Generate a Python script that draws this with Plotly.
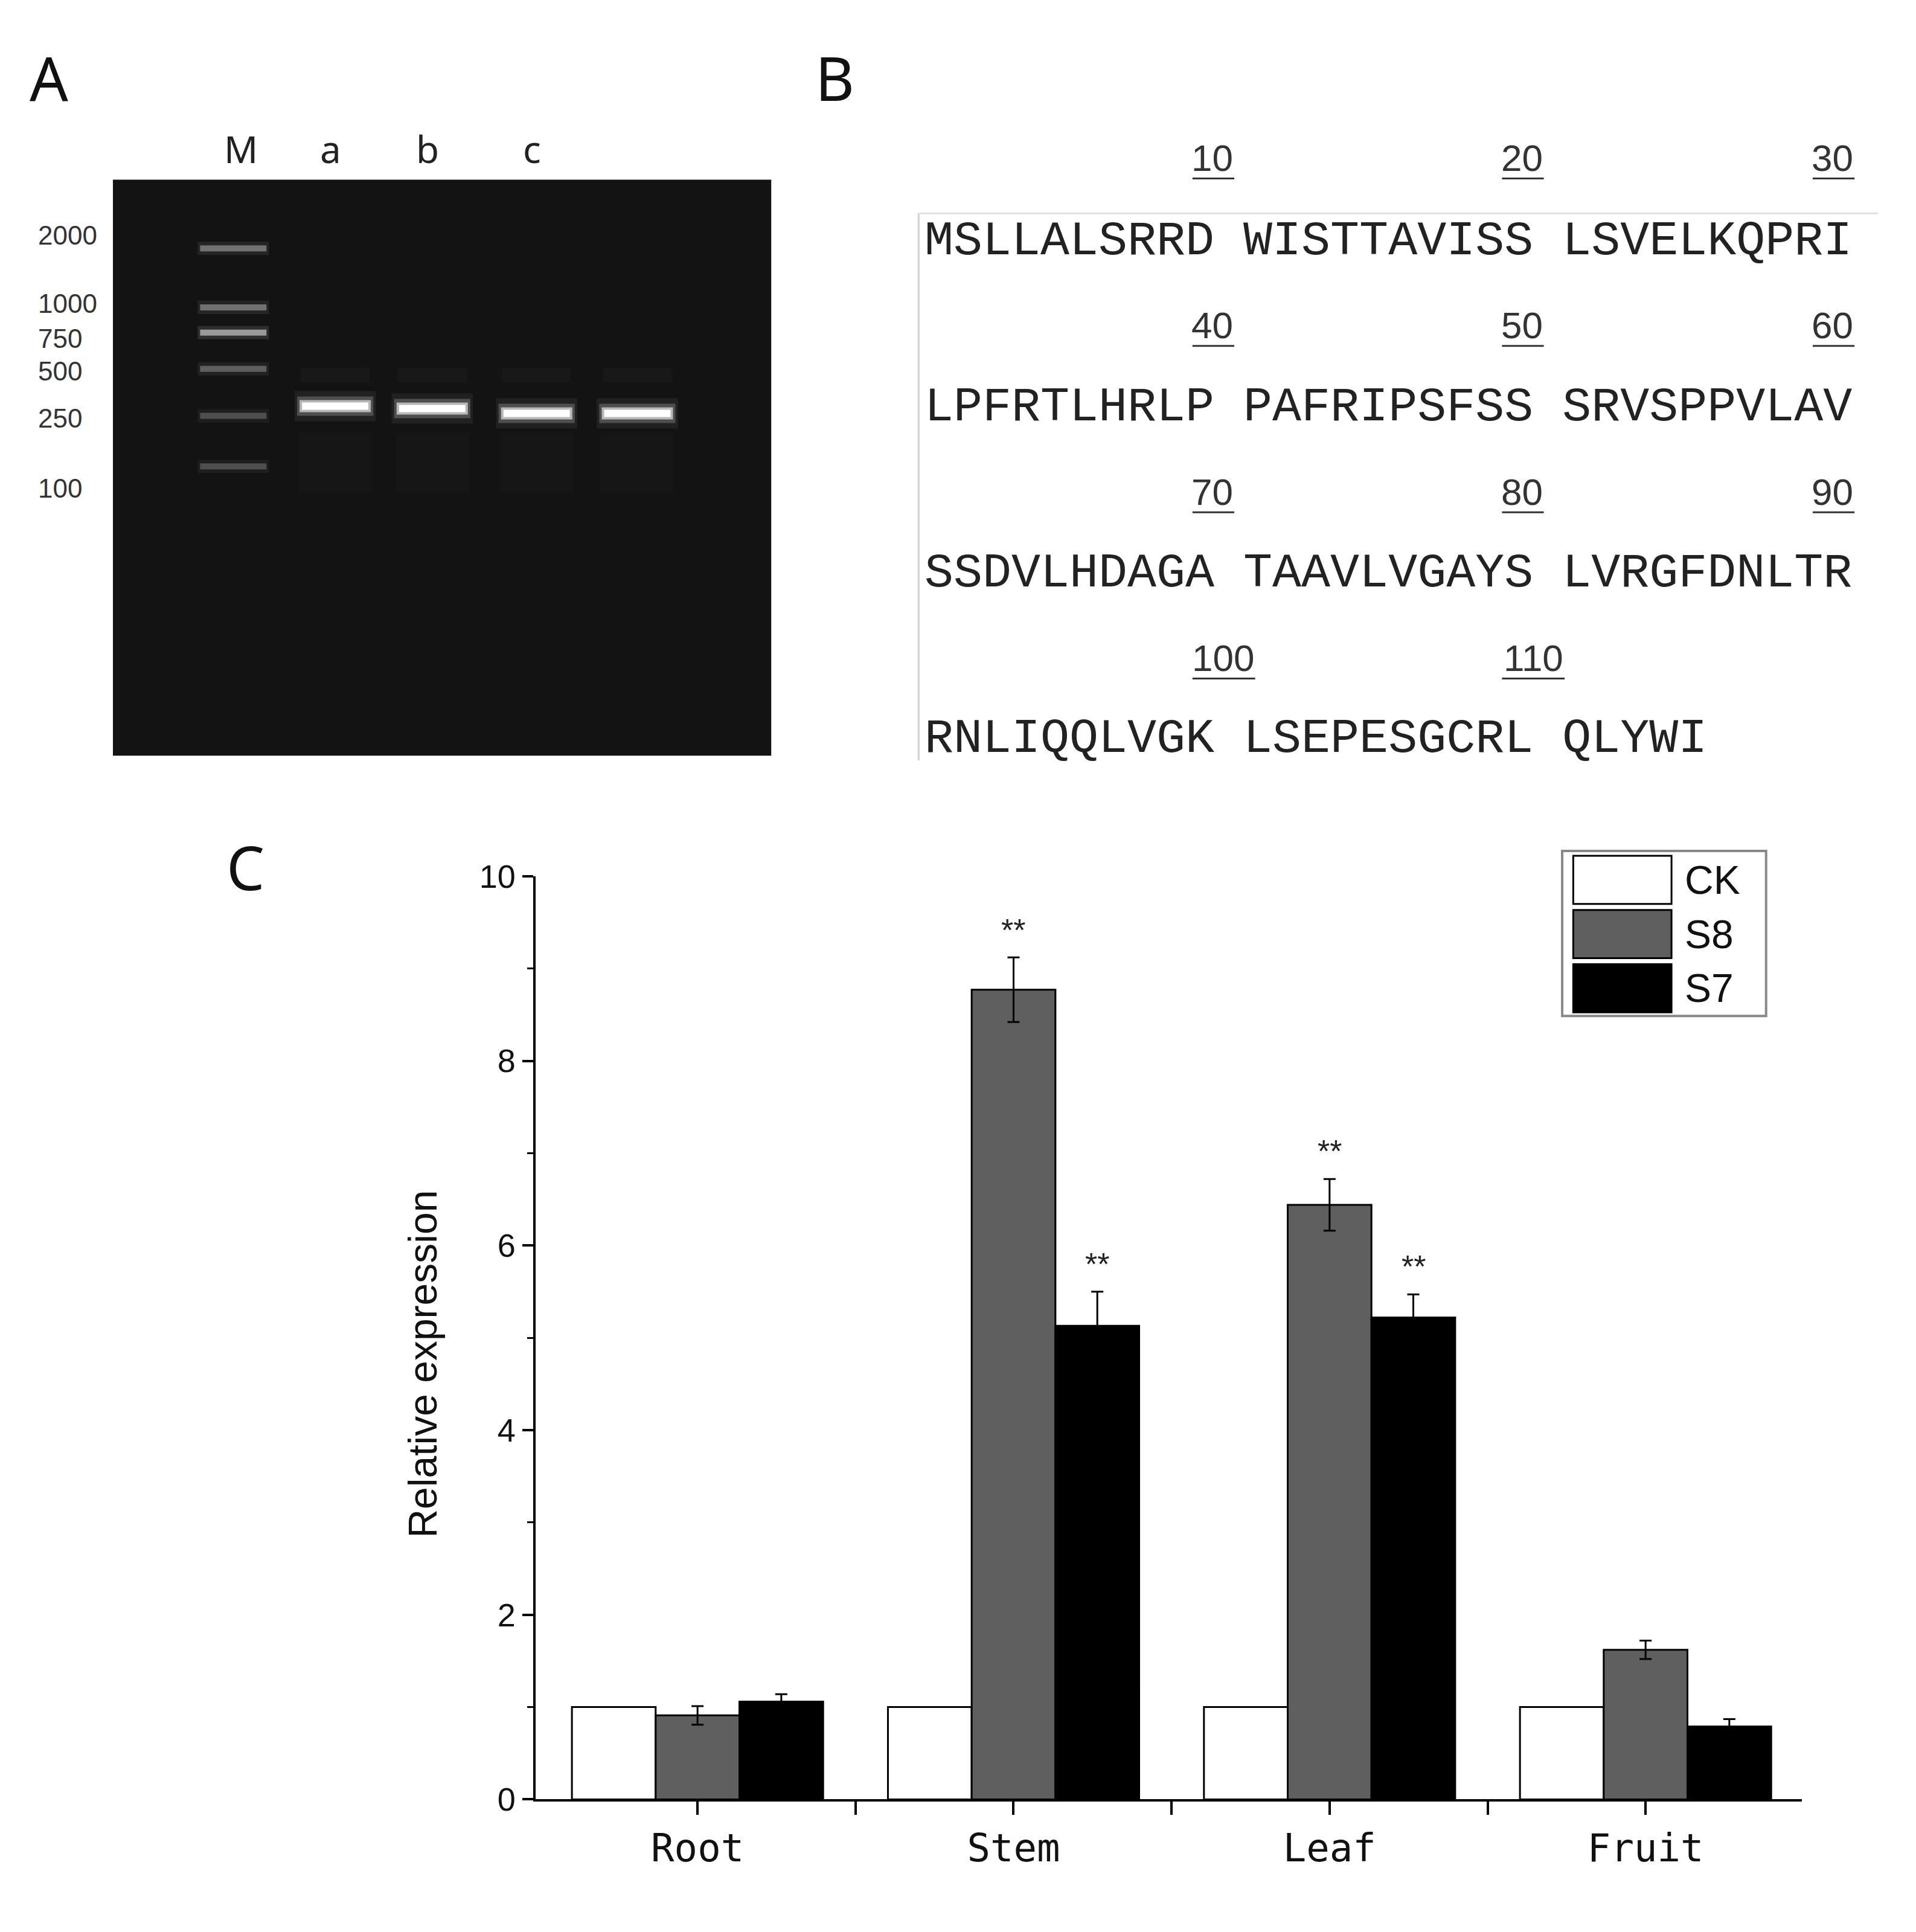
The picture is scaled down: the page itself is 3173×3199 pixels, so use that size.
import plotly.graph_objects as go

W, H = 3173, 3199
DW, DH = 1560.0, 1573.0  # reference display-unit frame
def px(x): return x / DW
def py(y): return 1 - y / DH

# ---------------- data ----------------
tissues = ["Root", "Stem", "Leaf", "Fruit"]
ck = [1.0, 1.0, 1.0, 1.0]
s8 = [0.91, 8.77, 6.44, 1.62]
s8_err = [0.10, 0.35, 0.28, 0.10]
s7 = [1.06, 5.13, 5.22, 0.79]
s7_err = [0.08, 0.37, 0.25, 0.08]
s8_sig = ["", "**", "**", ""]
s7_sig = ["", "**", "**", ""]

ladder_labels = ["2000", "1000", "750", "500", "250", "100"]
ladder_label_y = [176, 233, 262, 289, 328, 386]
ladder_band_y = [187, 236, 257, 287, 326, 368]
ladder_band_int = [0.5, 0.5, 0.75, 0.4, 0.3, 0.3]
lane_names = ["M", "a", "b", "c"]
lane_x = [186, 269, 348, 433, 515]
sample_band_y = [318, 320, 324, 324]

seq_rows = ["MSLLALSRRD WISTTAVISS LSVELKQPRI",
            "LPFRTLHRLP PAFRIPSFSS SRVSPPVLAV",
            "SSDVLHDAGA TAAVLVGAYS LVRGFDNLTR",
            "RNLIQQLVGK LSEPESGCRL QLYWI"]
seq_nums = [["10", "20", "30"], ["40", "50", "60"], ["70", "80", "90"], ["100", "110"]]

fig = go.Figure()

# ---------------- panel C bars ----------------
xs = list(range(len(tissues)))
fig.add_bar(x=xs, y=ck, name="CK", marker=dict(color="white", line=dict(color="black", width=3)))
fig.add_bar(x=xs, y=s8, name="S8", marker=dict(color="#5f5f5f", line=dict(color="black", width=3)),
            error_y=dict(type="data", array=s8_err, color="black", thickness=3, width=10))
fig.add_bar(x=xs, y=s7, name="S7", marker=dict(color="black", line=dict(color="black", width=3)),
            error_y=dict(type="data", array=s7_err, color="black", thickness=3, width=10))

def A(**kw):
    d = dict(showarrow=False, xanchor="center", yanchor="middle", xref="paper", yref="paper")
    d.update(kw)
    return d

ann = []
bw = 0.795 / 3
for i in xs:
    if s8_sig[i]:
        ann.append(A(x=i, y=s8[i] + s8_err[i] + 0.3, xref="x", yref="y", text=s8_sig[i],
                     font=dict(size=52, family="Liberation Sans", color="#222")))
    if s7_sig[i]:
        ann.append(A(x=i + bw, y=s7[i] + s7_err[i] + 0.3, xref="x", yref="y", text=s7_sig[i],
                     font=dict(size=52, family="Liberation Sans", color="#222")))

# ---------------- gel (panel A) ----------------
def band(xc, yc, halfw, thick, color, op):
    fig.add_trace(go.Scatter(x=[xc - halfw, xc + halfw], y=[yc, yc], xaxis="x2", yaxis="y2",
                             mode="lines", line=dict(color=color, width=thick), opacity=op,
                             showlegend=False, hoverinfo="skip"))

for xc in lane_x[1:]:
    band(xc, 365, 30, 100, "#ffffff", 0.012)
    band(xc, 292, 28, 24, "#ffffff", 0.02)
for yb, it in zip(ladder_band_y, ladder_band_int):
    band(lane_x[0], yb, 29, 22, "#ffffff", it * 0.15)
    band(lane_x[0], yb, 27, 10, "#bdbdbd", it)
for xc, yb in zip(lane_x[1:], sample_band_y):
    band(xc, yb, 33, 50, "#ffffff", 0.06)
    band(xc, yb, 31, 32, "#ffffff", 0.2)
    band(xc, yb, 29, 20, "#ffffff", 0.6)
    band(xc, yb, 27, 12, "#ffffff", 1.0)

shapes = [
    dict(type="rect", xref="x2 domain", yref="y2 domain", x0=0, x1=1, y0=0, y1=1,
         fillcolor="#131313", line=dict(width=0), layer="below"),
]
for lbl, ly in zip(ladder_labels, ladder_label_y):
    ann.append(A(x=px(26), y=py(ly), text=lbl, xanchor="left",
                 font=dict(size=44, family="Liberation Sans", color="#333")))
for nm, lx in zip(lane_names, lane_x):
    ann.append(A(x=px(lx + 6 if nm == "M" else lx - 4), y=py(104), text=nm,
                 font=dict(size=62, family="Noto Sans", color="#222")))

# ---------------- sequence (panel B) ----------------
shapes.append(dict(type="line", xref="paper", yref="paper", x0=px(744), x1=px(744), y0=py(158), y1=py(612),
                   line=dict(color="#d0d0d0", width=3)))
shapes.append(dict(type="line", xref="paper", yref="paper", x0=px(744), x1=px(1525), y0=py(158), y1=py(158),
                   line=dict(color="#e0e0e0", width=3)))
row_y = [181, 319, 457, 594]
num_y = [112, 251, 389, 527]
for r, (txt, nums) in enumerate(zip(seq_rows, seq_nums)):
    ann.append(A(x=px(748), y=py(row_y[r]), text=txt, xanchor="left",
                 font=dict(size=80, family="Liberation Mono", color="#222")))
    for k, n in enumerate(nums):
        xr = [1001, 1253, 1506][k] if r < 3 else [1018, 1270][k]
        ann.append(A(x=px(xr), y=py(num_y[r]), text=n, xanchor="right",
                     font=dict(size=62, family="Liberation Sans", color="#333")))
        wdt = 17 * len(n)
        shapes.append(dict(type="line", xref="paper", yref="paper", x0=px(xr - wdt), x1=px(xr),
                           y0=py(num_y[r] + 17), y1=py(num_y[r] + 17), line=dict(color="#333", width=3)))

# ---------------- panel letters ----------------
for L, lx, ly in [("A", 36, 45), ("B", 676, 45), ("C", 196, 700)]:
    ann.append(A(x=px(lx), y=py(ly), text=L, font=dict(size=100, family="Noto Sans", color="#111")))

ann.append(A(x=px(340), y=py(1113), text="Relative expression", textangle=-90,
             font=dict(size=66, family="Liberation Sans", color="#111")))

# ---------------- legend (custom box) ----------------
shapes.append(dict(type="rect", xref="paper", yref="paper", x0=px(1268), x1=px(1434), y0=py(824), y1=py(687),
                   line=dict(color="#888", width=4), fillcolor="white"))
for k, (nm, col) in enumerate([("CK", "white"), ("S8", "#5f5f5f"), ("S7", "black")]):
    yc = 711 + k * 45
    shapes.append(dict(type="rect", xref="paper", yref="paper", x0=px(1277), x1=px(1357),
                       y0=py(yc + 20), y1=py(yc - 20), line=dict(color="black", width=3), fillcolor=col))
    ann.append(A(x=px(1367), y=py(yc), text=nm, xanchor="left",
                 font=dict(size=66, family="Liberation Sans", color="#111")))

tickvals = [0, 0.5, 1, 1.5, 2, 2.5, 3]
ticktext = ["Root", "", "Stem", "", "Leaf", "", "Fruit"]
fig.update_layout(
    width=W, height=H, margin=dict(l=0, r=0, t=0, b=0),
    paper_bgcolor="white", plot_bgcolor="white", showlegend=False,
    barmode="group", bargap=0.205, bargroupgap=0,
    annotations=ann, shapes=shapes,
    xaxis=dict(domain=[px(432), px(1463)], range=[-0.513, 3.494], tickvals=tickvals, ticktext=ticktext,
               ticks="outside", ticklen=22, tickwidth=4, tickcolor="black", showline=True, linecolor="black",
               linewidth=4, showgrid=False, zeroline=False, anchor="y",
               tickfont=dict(size=64, family="DejaVu Sans Mono", color="#111")),
    yaxis=dict(domain=[py(1474), py(708)], range=[0, 10], tickvals=[0, 2, 4, 6, 8, 10],
               ticks="outside", ticklen=18, tickwidth=4, tickcolor="black", showline=True, linecolor="black",
               linewidth=4, showgrid=False, zeroline=False, anchor="x",
               minor=dict(tickvals=[1, 3, 5, 7, 9], ticks="outside", ticklen=10, tickwidth=3, tickcolor="black"),
               tickfont=dict(size=54, family="Liberation Sans", color="#111")),
    xaxis2=dict(domain=[px(88), px(624)], range=[88, 624], visible=False, anchor="y2"),
    yaxis2=dict(domain=[py(608), py(130)], range=[608, 130], visible=False, anchor="x2"),
)
fig.write_html("out.html")
